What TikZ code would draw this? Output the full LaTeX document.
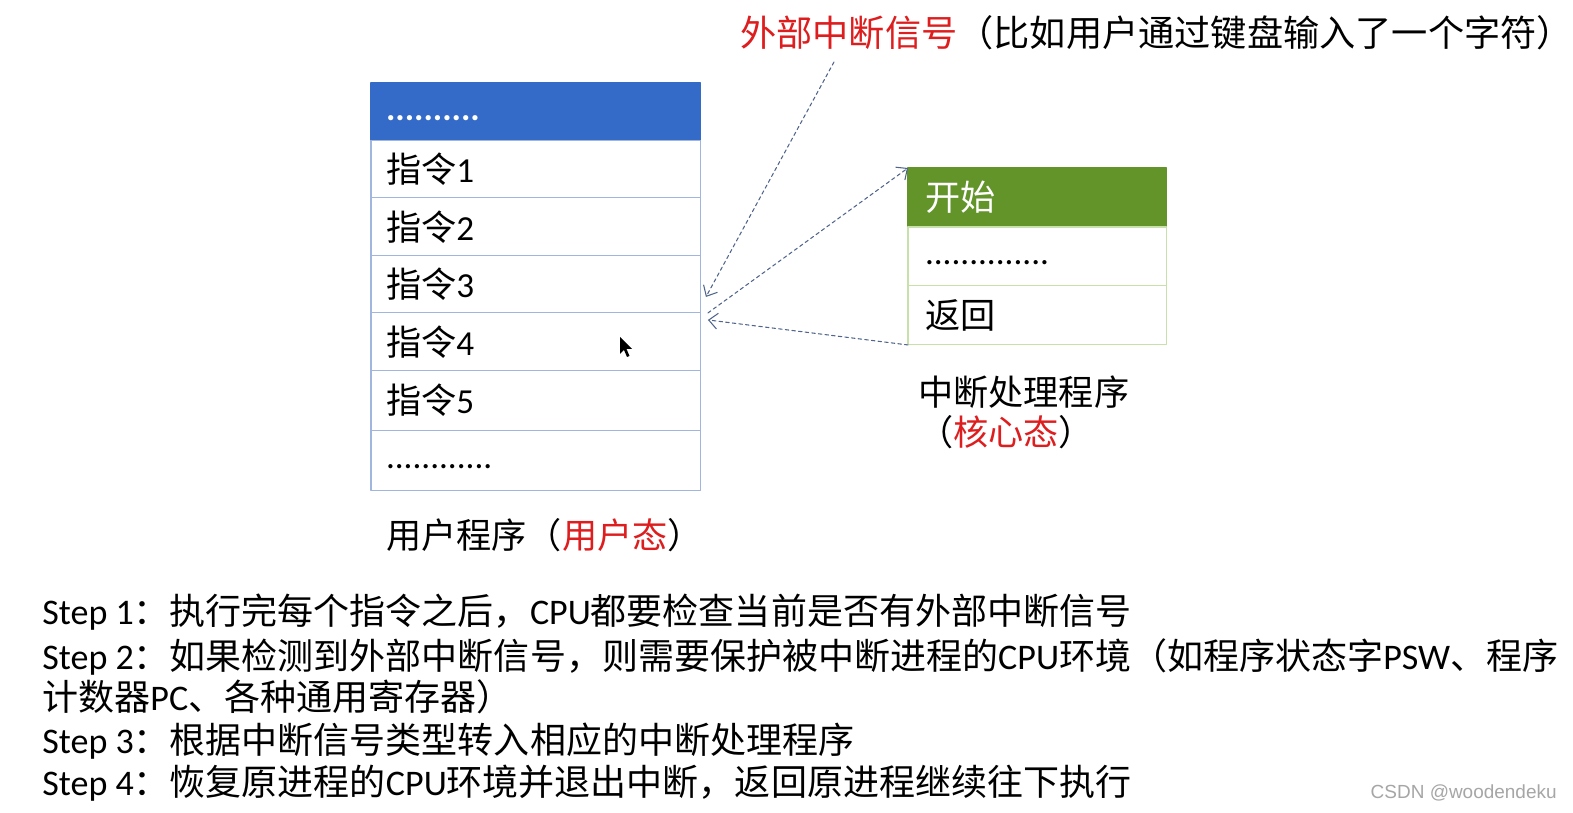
\documentclass[tikz,border=0pt]{standalone}
\usepackage{fontspec}
\setmainfont{Carlito}
\newfontfamily\cjk{Noto Sans CJK SC}
\newfontfamily\wmfont{Liberation Sans}
\usetikzlibrary{arrows.meta,positioning}
\definecolor{hdblue}{RGB}{52,106,200}
\definecolor{ulinec}{RGB}{160,182,222}
\definecolor{hdgreen}{RGB}{98,148,42}
\definecolor{glinec}{RGB}{200,225,170}
\definecolor{sigc}{RGB}{80,100,140}
\definecolor{sigred}{RGB}{222,30,30}
\begin{document}
\begin{tikzpicture}[x=0.02cm, y=-0.02cm, >={Straight Barb[length=5pt,width=9pt]}, font=\fontsize{20}{24}\selectfont, line join=round, line cap=round,
	ucell/.style={draw=ulinec, line width=0.6pt, outer sep=0pt, minimum height=1.15cm, text width=6.0cm, inner xsep=0.3cm, inner ysep=0pt, align=left},
	gcell/.style={draw=glinec, line width=0.6pt, outer sep=0pt, minimum height=1.18cm, text width=4.5cm, inner xsep=0.34cm, inner ysep=0pt, align=left},
	sigline/.style={->, draw=sigc, dash pattern=on 2pt off 1.8pt, line width=0.6pt},
	txt/.style={inner sep=0pt, anchor=west},
	stepline/.style={txt, font=\fontsize{20.5}{24}\selectfont}]
	\useasboundingbox (0,0) rectangle (1573,813);
	\fill[white] (0,0) rectangle (1573,813);
	% user program
	\node[ucell, fill=hdblue, draw=hdblue, text=white, anchor=north west] (u0) at (371,83) {\strut\textbf{..........}};
	\foreach \i [count=\j from 0] in {1,...,4}{
		\node[ucell, below=0pt of u\j] (u\i) {{\cjk 指令}\i};
	}
	\node[ucell, minimum height=1.2cm, below=0pt of u4] (u5) {{\cjk 指令}5};
	\node[ucell, minimum height=1.2cm, below=0pt of u5] (u6) {\strut............};
	\node[txt] (ulab) at (386,535) {\cjk 用户程序（{\color{sigred}用户态}）};
	% cursor
	\fill (620,337) -- (620,354) -- (624,350) -- (627,357) -- (629.5,356) -- (626.5,349) -- (632,349) -- cycle;
	% interrupt handler
	\node[gcell, fill=hdgreen, draw=hdgreen, text=white, anchor=north west] (g0) at (908,168) {\cjk 开始};
	\node[gcell, below=0pt of g0] (g1) {\strut..............};
	\node[gcell, below=0pt of g1] (g2) {\cjk 返回};
	\node[txt] (glab) at (918,392) {\cjk 中断处理程序};
	\node[txt] (glab2) at (918,432) {\cjk （{\color{sigred}核心态}）};
	% signal
	\node[txt, font=\fontsize{20.6}{24}\selectfont] (title) at (740,33) {\cjk{\color{sigred}外部中断信号}（比如用户通过键盘输入了一个字符）};
	\coordinate (sig) at (834,62);
	\draw[sigline] (sig) -- ([shift={(5,-16)}]u3.south east);
	\draw[sigline] ([shift={(7,0)}]u3.south east) -- (g0.north west);
	\draw[sigline] (g2.south west) -- ([shift={(7,7)}]u4.north east);
	% steps
	\node[stepline] (s1) at (42,612) {Step 1{\cjk ：执行完每个指令之后，}CPU{\cjk 都要检查当前是否有外部中断信号}};
	\node[stepline] (s2) at (42,657) {Step 2{\cjk ：如果检测到外部中断信号，则需要保护被中断进程的}CPU{\cjk 环境（如程序状态字}PSW{\cjk 、程序}};
	\node[stepline] (s2b) at (42,697) {{\cjk 计数器}PC{\cjk 、各种通用寄存器）}};
	\node[stepline] (s3) at (42,741) {Step 3{\cjk ：根据中断信号类型转入相应的中断处理程序}};
	\node[stepline] (s4) at (42,783) {Step 4{\cjk ：恢复原进程的}CPU{\cjk 环境并退出中断，返回原进程继续往下执行}};
	\node[anchor=east, inner sep=0pt, text=gray!70, font=\wmfont\fontsize{10.8}{13}\selectfont] (wmk) at (1557,793) {CSDN @woodendeku};
\end{tikzpicture}
\end{document}
